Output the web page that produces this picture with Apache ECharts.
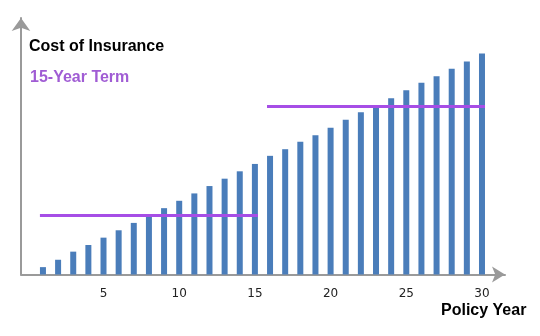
<!DOCTYPE html>
<html>
<head>
<meta charset="utf-8">
<script src="https://cdn.jsdelivr.net/npm/echarts@6/dist/echarts.min.js"></script>
<style>
html,body{margin:0;padding:0;background:#fff;}
#chart{width:540px;height:336px;}
</style>
</head>
<body>
<div id="chart"></div>
<script>
// Data
var policyYears = [1,2,3,4,5,6,7,8,9,10,11,12,13,14,15,16,17,18,19,20,21,22,23,24,25,26,27,28,29,30];
var costOfInsurance = [1.0,2.0,3.1,4.0,5.0,6.0,7.0,7.9,9.0,10.0,11.0,12.0,13.0,14.0,15.0,16.1,17.0,18.0,18.9,19.9,21.0,22.0,22.9,23.9,25.0,26.0,26.9,27.9,28.9,30.0];
var termStartYears = [0.8, 15.8];
var termEndYears = [15.2, 30.2];
var termPremiums = [8.0, 22.8];
var xTickLabels = [5, 10, 15, 20, 25, 30];

var barData = policyYears.map(function (y, i) { return [y, costOfInsurance[i]]; });
var termSeries = termPremiums.map(function (p, i) {
  return {
    type: 'line',
    data: [[termStartYears[i], p], [termEndYears[i], p]],
    symbol: 'none',
    lineStyle: { color: '#a64ee6', width: 3 },
    z: 5,
    silent: true
  };
});

var chart = echarts.init(document.getElementById('chart'), null, { renderer: 'canvas' });
chart.setOption({
  animation: false,
  backgroundColor: '#ffffff',
  title: [
    { text: 'Cost of Insurance', left: 29, top: 39, padding: 0,
      textStyle: { fontFamily: 'Liberation Sans, Arial, sans-serif', fontSize: 16, fontWeight: 'bold', color: '#000000' } },
    { text: '15-Year Term', left: 30, top: 70, padding: 0,
      textStyle: { fontFamily: 'Liberation Sans, Arial, sans-serif', fontSize: 16, fontWeight: 'bold', color: '#a05cd4' } },
    { text: 'Policy Year', left: 441, top: 303, padding: 0,
      textStyle: { fontFamily: 'Liberation Sans, Arial, sans-serif', fontSize: 16, fontWeight: 'bold', color: '#000000' } }
  ],
  grid: { left: 21, right: 35, top: 18, bottom: 61.5, containLabel: false },
  xAxis: {
    type: 'value',
    min: -0.45,
    max: 31.52,
    splitLine: { show: false },
    axisLine: { show: true, onZero: false, lineStyle: { color: '#9a9a9a', width: 2 }, symbol: ['none', 'arrow'], symbolSize: [12, 13] },
    axisTick: { show: false },
    axisLabel: {
      customValues: xTickLabels,
      margin: 13,
      fontSize: 12,
      color: '#222222',
      fontFamily: 'DejaVu Sans, sans-serif'
    }
  },
  yAxis: {
    type: 'value',
    min: 0,
    max: 34.8,
    splitLine: { show: false },
    axisLine: { show: true, onZero: false, lineStyle: { color: '#9a9a9a', width: 2 }, symbol: ['none', 'arrow'], symbolSize: [14, 13] },
    axisTick: { show: false },
    axisLabel: { show: false }
  },
  series: [
    {
      type: 'bar',
      data: barData,
      barWidth: 6,
      itemStyle: { color: '#4a7dba' },
      z: 2,
      silent: true
    }
  ].concat(termSeries)
});
</script>
</body>
</html>
